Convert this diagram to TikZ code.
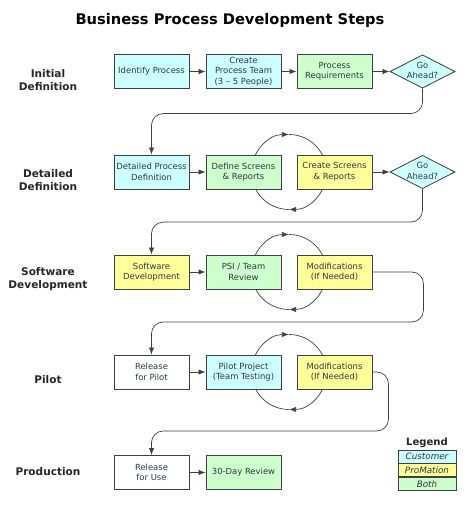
\documentclass[tikz,border=0pt]{standalone}
\usepackage{fontspec}
\setmainfont{DejaVu Sans}
\usetikzlibrary{arrows.meta,backgrounds,calc,positioning,shapes.geometric}
\definecolor{custcol}{RGB}{204,255,255}
\definecolor{promcol}{RGB}{255,255,153}
\definecolor{bothcol}{RGB}{204,255,204}
\definecolor{inkcol}{RGB}{45,55,65}
\def\cyclearc(#1)(#2){\draw[ring,-{Latex[length=6pt,width=4.5pt]}] ($(#1)+(180:#2)$) arc (180:90:#2);
	\draw[ring] ($(#1)+(90:#2)$) arc (90:0:#2);
	\draw[ring,-{Latex[length=6pt,width=4.5pt]}] ($(#1)+(0:#2)$) arc (0:-90:#2);
	\draw[ring] ($(#1)+(-90:#2)$) arc (-90:-180:#2);}
\def\gotext{\makebox[0pt]{\smash{\raisebox{-1.8pt}{\begin{tabular}{@{}c@{}}Go\\Ahead?\end{tabular}}}}}
\tikzset{
	stepbox/.style={draw=black!75, line width=0.7pt, minimum width=2.25cm, minimum height=1.02cm, inner sep=1pt, align=center, font=\fontsize{7.2}{9}\selectfont, text=inkcol},
	cust/.style={stepbox, fill=custcol},
	prom/.style={stepbox, fill=promcol},
	both/.style={stepbox, fill=bothcol},
	plain/.style={stepbox, fill=white},
	gobox/.style={diamond, draw=black!75, line width=0.7pt, fill=custcol, minimum width=1.95cm, minimum height=1cm, inner sep=0pt, font=\fontsize{7.2}{9}\selectfont, text=inkcol},
	phase/.style={align=center, font=\bfseries\fontsize{9}{11.3}\selectfont, text=black!85},
	link/.style={draw=black!75, line width=0.6pt, -{Latex[length=6pt,width=4.5pt]}},
	flow/.style={link, rounded corners=0.35cm},
	ring/.style={draw=black!75, line width=0.6pt},
	legbox/.style={draw=black!75, line width=0.6pt, minimum width=1.74cm, minimum height=0.39cm, inner sep=0pt, font=\itshape\fontsize{7.5}{8}\selectfont, text=inkcol},
}

\begin{document}
\begin{tikzpicture}[x=0.03cm, y=0.03cm]
		%%%%% START %%%%%
		\useasboundingbox (0, 0) rectangle (474, 507);
		\node[font=\bfseries\fontsize{12.5}{15}\selectfont] (title) at (230, 487) {Business Process Development Steps};
		
		\node[phase] (ph1) at (48, 427) {Initial\\Definition};
		\node[phase] (ph2) at (48, 327) {Detailed\\Definition};
		\node[phase] (ph3) at (48, 228) {Software\\Development};
		\node[phase] (ph4) at (48, 127) {Pilot};
		\node[phase] (ph5) at (48, 35) {Production};
		
		\node[cust] (b11) at (151.5, 435.5) {Identify Process};
		\node[cust] (b12) at (243.5, 435.5) {Create\\Process Team\\(3 \textendash{} 5 People)};
		\node[both] (b13) at (334.5, 435.5) {Process\\Requirements};
		\node[gobox] (d1) at (422.5, 435.5) {\gotext};
		
		\node[cust] (b21) at (151.5, 335) {Detailed Process\\Definition};
		\node[both] (b22) at (243.5, 335) {Define Screens\\\& Reports};
		\node[prom] (b23) at (334.5, 335) {Create Screens\\\& Reports};
		\node[gobox] (d2) at (422.5, 335) {\gotext};
		
		\node[prom] (b31) at (151.5, 235) {Software\\Development};
		\node[both] (b32) at (243.5, 235) {PSI / Team\\Review};
		\node[prom] (b33) at (334.5, 235) {Modifications\\(If Needed)};
		
		\node[plain] (b41) at (151.5, 135) {Release\\for Pilot};
		\node[cust] (b42) at (243.5, 135) {Pilot Project\\(Team Testing)};
		\node[prom] (b43) at (334.5, 135) {Modifications\\(If Needed)};
		
		\node[plain] (b51) at (151.5, 34.5) {Release\\for Use};
		\node[both] (b52) at (243.5, 34.5) {30-Day Review};
		
		\draw[link] (b11) -- (b12);
		\draw[link] (b12) -- (b13);
		\draw[link] (b13) -- (d1);
		\draw[flow] (d1.south) -- ++(0, -25) -| (b21.north);
		
		\draw[link] (b21) -- (b22);
		\draw[link] (b23) -- (d2);
		\draw[flow] (d2.south) -- ++(0, -33) -| (b31.north);
		
		\draw[link] (b31) -- (b32);
		\draw[flow] (b33.east) -- ++(51, 0) -- ++(0, -50) -| (b41.north);
		
		\draw[link] (b41) -- (b42);
		\draw[flow] (b43.east) -- ++(16, 0) -- ++(0, -59) -| (b51.north);
		
		\draw[link] (b51) -- (b52);
		
		\begin{scope}[on background layer]
			\cyclearc($(b22.east)!0.5!(b23.west)$)(1.125cm)
			\cyclearc($(b32.east)!0.5!(b33.west)$)(1.125cm)
			\cyclearc($(b42.east)!0.5!(b43.west)$)(1.125cm)
		\end{scope}
		
		% legend
		\node[font=\bfseries\fontsize{8.6}{10}\selectfont, text=black!85] (leg) at (427, 64) {Legend};
		\node[legbox, fill=custcol] (lg1) at (427, 50.5) {Customer};
		\node[legbox, fill=promcol, below=0pt of lg1] (lg2) {ProMation};
		\node[legbox, fill=bothcol, below=0pt of lg2] (lg3) {Both};
		%%%%% END %%%%%
	\end{tikzpicture}
\end{document}
